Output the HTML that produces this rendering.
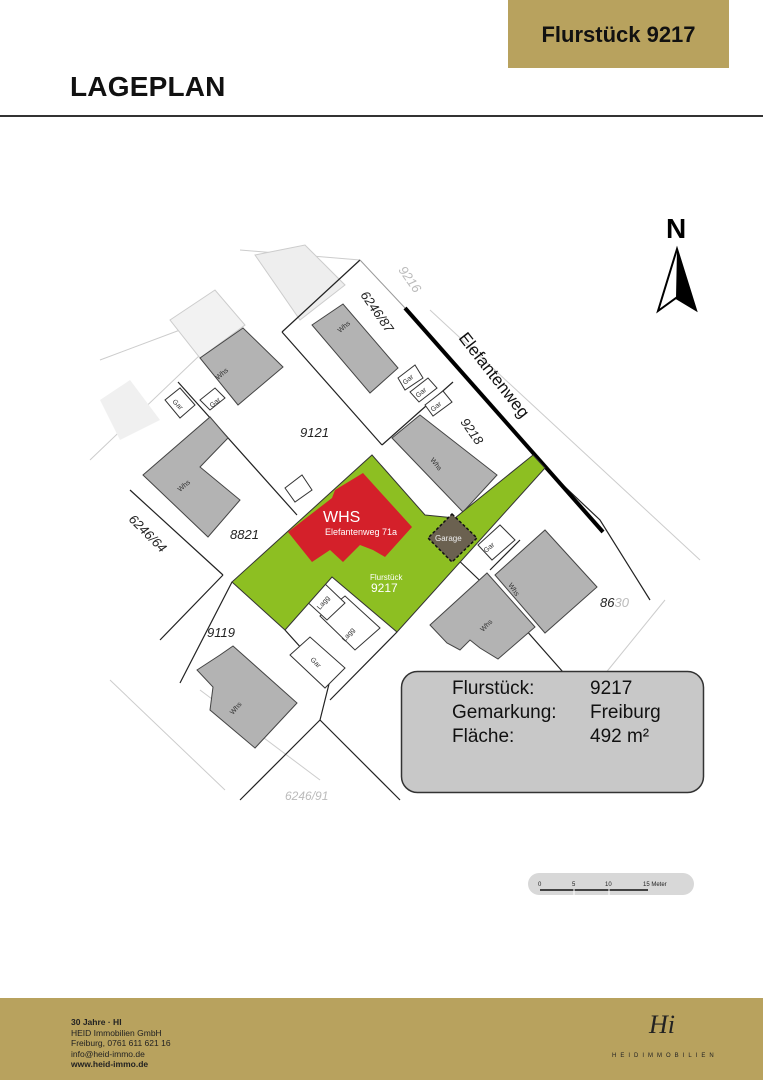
<!DOCTYPE html>
<html><head><meta charset="utf-8"><style>
body{margin:0;width:763px;height:1080px;position:relative;background:#fff;font-family:"Liberation Sans",sans-serif;overflow:hidden}
.gold{position:absolute;left:508px;top:0;width:221px;height:68px;background:#b8a25e;}
.gold span{position:absolute;left:0;right:0;top:22px;text-align:center;font-weight:bold;font-size:22px;color:#111}
.title{position:absolute;left:70px;top:71px;font-weight:bold;font-size:28px;color:#111;letter-spacing:0.2px}
.rule{position:absolute;left:0;top:115px;width:763px;height:2px;background:#333}
.footer{position:absolute;left:0;top:998px;width:763px;height:82px;background:#b8a25e}
.ft{position:absolute;left:71px;top:1017px;font-size:8.5px;line-height:10.5px;color:#222;font-family:"Liberation Sans Narrow","Liberation Sans",sans-serif}
</style></head><body>
<div class="gold"><span>Flurstück 9217</span></div>
<div class="title">LAGEPLAN</div>
<div class="rule"></div>
<svg width="763" height="1080" style="position:absolute;left:0;top:0" font-family="Liberation Sans,sans-serif">
<g stroke="#ccc" stroke-width="1" fill="none">
<line x1="240" y1="250" x2="360" y2="260"/>
<line x1="90" y1="460" x2="200" y2="355"/>
<line x1="100" y1="360" x2="180" y2="330"/>
<line x1="110" y1="680" x2="225" y2="790"/>
<line x1="200" y1="690" x2="320" y2="780"/>
<line x1="430" y1="310" x2="700" y2="560"/>
<line x1="600" y1="680" x2="665" y2="600"/>
</g>
<polygon points="255,255 305,245 345,285 300,320" fill="#eee" stroke="#ccc"/>
<polygon points="170,320 215,290 245,325 200,358" fill="#f2f2f2" stroke="#ccc"/>
<polygon points="100,400 130,380 160,420 120,440" fill="#f0f0f0"/>
<g stroke="#222" stroke-width="1.2" fill="none">
<polyline points="282,332 360,260"/>
<polyline points="282,332 382,445"/>
<polyline points="382,445 453,382"/>
<polyline points="178,382 297,515"/>
<polyline points="130,490 223,575"/>
<polyline points="223,575 160,640"/>
<polyline points="180,683 232,582"/>
<polyline points="285,630 330,680 320,720 240,800"/>
<polyline points="397,632 330,700"/>
<polyline points="320,720 400,800"/>
<polyline points="453,555 495,595 570,680"/>
<polyline points="490,570 520,540"/>
<polyline points="545,468 600,520 650,600"/>
</g>
<line x1="360" y1="260" x2="405" y2="308" stroke="#999" stroke-width="1"/>
<line x1="405" y1="308" x2="603" y2="532" stroke="#000" stroke-width="4"/>
<g fill="#b3b3b3" stroke="#444" stroke-width="1">
<polygon points="312,325 343,304 398,368 370,393"/>
<polygon points="392,438 420,415 497,475 463,512"/>
<polygon points="495,575 545,530 597,587 545,633"/>
<polygon points="430,625 487,573 535,627 498,659 480,648 470,640 460,650 447,643"/>
<polygon points="143,475 210,417 228,438 200,467 240,500 208,537"/>
<polygon points="200,358 243,328 283,367 238,405"/>
<polygon points="197,670 220,655 233,646 297,703 255,748 210,710 213,687"/>
</g>
<g fill="#fff" stroke="#333" stroke-width="1">
<polygon points="398,378 415,365 423,378 405,390"/>
<polygon points="410,392 428,378 437,388 419,402"/>
<polygon points="425,405 443,391 452,402 433,416"/>
<polygon points="165,400 180,388 195,405 180,418"/>
<polygon points="200,400 215,388 225,398 210,410"/>
<polygon points="285,488 302,475 312,490 295,502"/>
<polygon points="478,545 500,525 515,540 492,560"/>
<polygon points="290,655 310,637 345,668 325,688"/>
<polygon points="320,616 345,596 380,628 355,650"/>
<polygon points="303,598 322,581 345,603 327,620"/>
</g>
<polygon points="232,582 372,455 425,515 455,518 533,455 545,468 397,632 332,577 285,630" fill="#8dbf22" stroke="#333" stroke-width="1"/>
<polygon points="288,532 332,498 335,490 363,473 412,527 385,557 373,550 360,545 343,562 330,550 312,562" fill="#d4202a"/>
<polygon points="452,514 477,538 452,562 428,538" fill="#6b6150" stroke="#111" stroke-width="1.5" stroke-dasharray="3,2"/>
<g fill="#fff">
<text x="323" y="522" font-size="16">WHS</text>
<text x="325" y="535" font-size="9">Elefantenweg 71a</text>
<text x="370" y="580" font-size="8">Flurstück</text>
<text x="371" y="592" font-size="12">9217</text>
<text x="435" y="541" font-size="8" fill="#eee">Garage</text>
</g>
<g font-style="italic" font-size="13" fill="#222">
<text x="300" y="437">9121</text>
<text x="230" y="539">8821</text>
<text x="207" y="637">9119</text>
<text x="600" y="607">86<tspan fill="#bbb">30</tspan></text>
<text x="0" y="0" transform="translate(460,422) rotate(55)">9218</text>
<text x="0" y="0" transform="translate(360,295) rotate(55)">6246/87</text>
<text x="0" y="0" transform="translate(128,520) rotate(45)">6246/64</text>
<text x="0" y="0" fill="#bbb" transform="translate(398,270) rotate(55)">9216</text>
<text x="285" y="800" fill="#bbb" font-size="12">6246/91</text>
</g>
<text transform="translate(458,338) rotate(52)" font-size="17" fill="#111">Elefantenweg</text>
<g font-size="7" fill="#333">
<text transform="translate(340,333) rotate(-40)">Whs</text>
<text transform="translate(430,460) rotate(52)">Whs</text>
<text transform="translate(508,585) rotate(55)">Whs</text>
<text transform="translate(483,632) rotate(-45)">Whs</text>
<text transform="translate(180,492) rotate(-40)">Whs</text>
<text transform="translate(218,380) rotate(-40)">Whs</text>
<text transform="translate(233,715) rotate(-50)">Whs</text>
<text transform="translate(405,385) rotate(-40)">Gar</text>
<text transform="translate(418,398) rotate(-40)">Gar</text>
<text transform="translate(433,412) rotate(-40)">Gar</text>
<text transform="translate(486,553) rotate(-40)">Gar</text>
<text transform="translate(212,408) rotate(-40)">Gar</text>
<text transform="translate(172,402) rotate(45)">Gar</text>
<text transform="translate(310,660) rotate(45)">Gar</text>
<text transform="translate(320,610) rotate(-50)">Lagg</text>
<text transform="translate(345,642) rotate(-50)">Lagg</text>
</g>
<text x="666" y="238" font-size="28" font-weight="bold" fill="#000">N</text>
<polygon points="677,249 658,311 676,298 696,310" fill="#fff" stroke="#000" stroke-width="2"/>
<polygon points="677,249 676,298 696,310" fill="#000"/>
<rect x="401.5" y="671.5" width="302" height="121" rx="16" fill="#c8c8c8" stroke="#333" stroke-width="1.5"/>
<g font-size="19" fill="#111">
<text x="452" y="694">Flurstück:</text><text x="590" y="694">9217</text>
<text x="452" y="718">Gemarkung:</text><text x="590" y="718">Freiburg</text>
<text x="452" y="742">Fläche:</text><text x="590" y="742">492 m²</text>
</g>
<rect x="528" y="873" width="166" height="22" rx="11" fill="#d8d8d8"/>
<line x1="540" y1="890" x2="648" y2="890" stroke="#111" stroke-width="1.5"/>
<line x1="574" y1="889" x2="574" y2="896" stroke="#fff" stroke-width="1"/>
<line x1="609" y1="889" x2="609" y2="896" stroke="#fff" stroke-width="1"/>
<g font-size="6" fill="#222"><text x="538" y="886">0</text><text x="572" y="886">5</text><text x="605" y="886">10</text><text x="643" y="886">15  Meter</text></g>
</svg>
<div class="footer"></div>
<div class="ft"><b>30 Jahre · HI</b><br>HEID Immobilien GmbH<br>Freiburg, 0761 611 621 16<br>info@heid-immo.de<br><b>www.heid-immo.de</b></div>
<div style="position:absolute;left:649px;top:1010px;font-family:'Liberation Serif',serif;font-style:italic;font-size:26px;color:#222">Hi</div>
<div style="position:absolute;left:612px;top:1053px;font-size:6px;letter-spacing:4px;color:#222">HEIDIMMOBILIEN</div>
</body></html>
